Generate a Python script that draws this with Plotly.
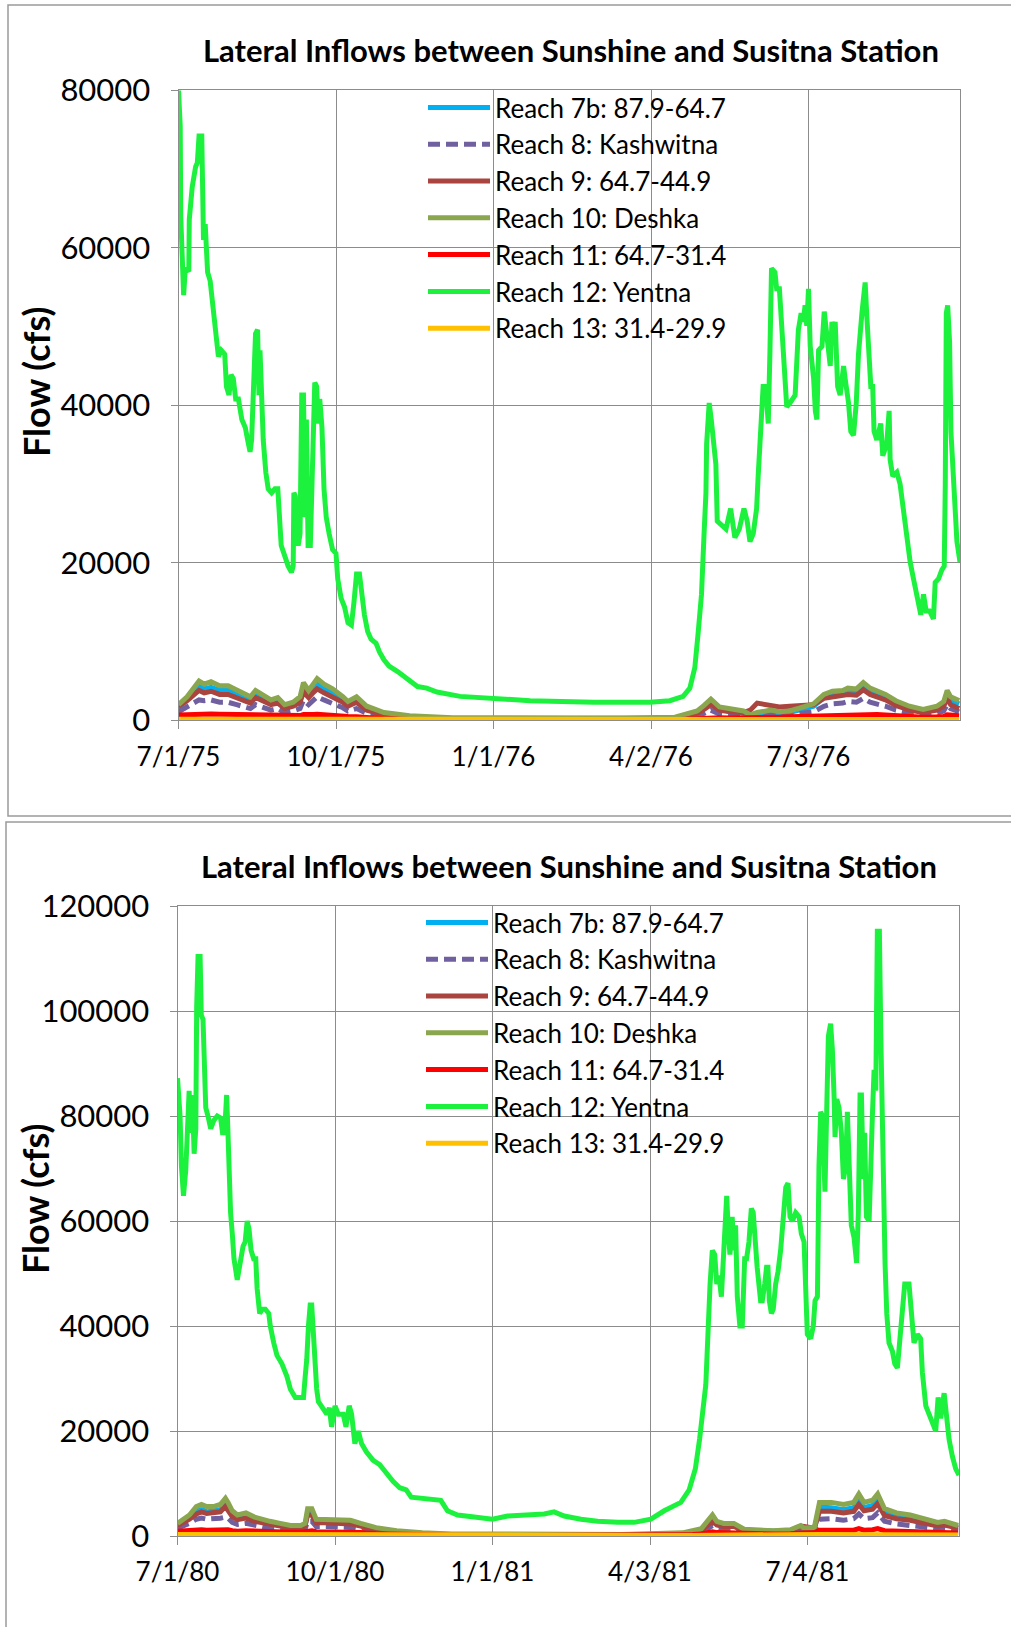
import pandas as pd
import plotly.graph_objects as go

# ---------------------------------------------------------------------------
# Labels
# ---------------------------------------------------------------------------
TITLE = "Lateral Inflows between Sunshine and Susitna Station"
Y_TITLE = "Flow (cfs)"
SERIES_NAMES = [
    "Reach 7b: 87.9-64.7",
    "Reach 8: Kashwitna",
    "Reach 9: 64.7-44.9",
    "Reach 10: Deshka",
    "Reach 11: 64.7-31.4",
    "Reach 12: Yentna",
    "Reach 13: 31.4-29.9",
]

# ---------------------------------------------------------------------------
# Panel 1: July 1975 - September 1976 (days counted from T_START)
# ---------------------------------------------------------------------------
T_START = "1975-07-01"
T_TICK_DATES = ["1975-07-01", "1975-10-01", "1976-01-01", "1976-04-02", "1976-07-03"]
T_TICK_TEXT = ["7/1/75", "10/1/75", "1/1/76", "4/2/76", "7/3/76"]
T_Y_TICKS = [0, 20000, 40000, 60000, 80000]

T_YENTNA_DAYS = [
    0, 1, 1.3, 3, 4, 6, 6.3, 8, 10, 11, 12, 13.6, 14, 14.6, 15.6, 17, 18.5, 20, 21, 22.4,
    23.3, 25, 27, 28, 29.5, 30.7, 32, 33.4, 35, 37, 39, 40.4, 41.8, 42.7, 43.5, 44.3, 45,
    46.2, 47, 47.6, 48.5, 49.5, 51, 52.4, 54.4, 56.3, 58, 59, 60, 62.5, 64, 66, 67, 67.4,
    68.3, 69, 69.9, 71, 72, 73, 74, 74.7, 75.7, 77, 78.6, 79.6, 80.7, 81.5, 82.5, 83.8, 85,
    86.3, 88, 90, 92, 93, 95, 97, 99, 101, 102.5, 104, 105.7, 107, 108.6, 110.5, 112.5,
    115.4, 117.4, 120, 123, 128, 132, 136, 139.6, 145, 151, 164.5, 184, 205.4, 242.4,
    275.4, 287, 294.8, 298.7, 301.6, 303.5, 305.5, 307, 308.1, 308.5, 310, 311.2, 312.4,
    313.9, 314.7, 317.2, 319.8, 322.5, 325, 327.6, 330.3, 332.2, 333.8, 335.7, 337.7,
    338.6, 340, 341.5, 343, 344.5, 345.5, 346.4, 348.4, 349.4, 351, 352.3, 353.7, 355.3,
    357.2, 360.2, 362.1, 363.7, 365, 366, 367, 368, 369, 371, 372, 372.9, 373.9, 375.9,
    377.2, 378.4, 379.7, 380.7, 381.7, 382.6, 383.6, 385, 386.5, 388.5, 389.4, 391.4,
    392.7, 394.3, 395.9, 397.2, 399.2, 401.1, 402.1, 403, 404.4, 405.5, 406.3, 407.9,
    409.5, 410.2, 411.4, 413.7, 415.1, 415.7, 417.2, 419.6, 421.5, 423.5, 425.4, 427.4,
    429.3, 431.3, 433.6, 435.2, 436.7, 438.7, 441, 442, 444, 445.9, 447.3, 447.9, 448.5,
    449.3, 450.4, 451.2, 452.8, 454.7, 456.5,
]
T_YENTNA_CFS = [
    80000, 75500, 64000, 54000, 57400, 57000, 63600, 67700, 70300, 70800, 74200, 74200,
    68800, 61000, 63000, 56900, 55800, 52700, 51700, 47500, 46200, 47000, 46500, 42400,
    41300, 43900, 43400, 40800, 40800, 38200, 37200, 35600, 34100, 35600, 41300, 44400,
    49100, 49600, 41300, 47000, 40800, 35600, 31500, 29400, 28900, 29400, 29400, 24800,
    22200, 20600, 19600, 18800, 19600, 28900, 28400, 23700, 22200, 23700, 41300, 41300,
    25800, 38200, 22200, 22200, 36700, 42900, 42400, 37700, 40800, 37200, 29400, 25800,
    23700, 21700, 21200, 18000, 15500, 14400, 12400, 12100, 15000, 18600, 18600, 15500,
    13400, 11300, 10300, 9800, 8700, 7700, 6900, 6200, 5600, 4900, 4300, 4100, 3600,
    3050, 2800, 2500, 2300, 2300, 2500, 3050, 4100, 6700, 11000, 16000, 23700, 28900,
    35100, 40300, 38200, 36200, 32500, 25300, 24800, 24300, 26900, 23200, 24300, 26900,
    25300, 22700, 23700, 26900, 31000, 36700, 42400, 42400, 37700, 47000, 57400, 56900,
    54800, 54800, 50600, 45000, 39800, 40300, 41300, 49600, 51700, 50600, 52700, 50100,
    54800, 47500, 43400, 39300, 38200, 47000, 47500, 51900, 49600, 47000, 45000, 50600,
    49100, 50600, 42400, 41300, 45000, 43400, 40300, 36700, 36200, 40300, 46500, 51700,
    55600, 51200, 46500, 42400, 42400, 36700, 35600, 37200, 37700, 33600, 35100, 39300,
    33100, 31000, 31500, 30000, 26300, 22700, 20100, 18000, 15500, 13400, 16000, 13900,
    13900, 12900, 17500, 18000, 19100, 19600, 30000, 51700, 52700, 48100, 36700, 28900,
    22700, 20100,
]

T_SMALL_DAYS = [
    0, 5, 12, 15, 19, 24, 29, 34, 39, 42, 45, 49, 54, 58, 62, 67, 71, 73, 76, 79, 81, 85,
    90, 96, 99, 104, 110, 120, 135, 160, 200, 260, 290, 299, 303, 307, 311, 316, 322, 330,
    334, 338, 346, 351, 357, 365, 371, 377, 382, 388, 391, 396, 400, 404, 408, 413, 419,
    427, 435, 443, 447, 449, 451, 456,
]
T_REACH7B_CFS = [
    1500, 2600, 4300, 4000, 4200, 3800, 3800, 3400, 2800, 2600, 3300, 2900, 2200, 2500,
    1700, 2000, 2600, 4000, 3400, 4200, 4700, 4100, 3500, 2600, 2100, 2600, 1500, 800,
    450, 250, 200, 200, 300, 700, 1000, 1600, 2300, 1400, 1200, 900, 500, 800, 1000, 900,
    1000, 1500, 1800, 2900, 3300, 3400, 3700, 3600, 4300, 3700, 3400, 2900, 2200, 1500,
    1100, 1500, 2000, 3300, 2600, 2100,
]
T_REACH8_CFS = [
    1100, 1800, 2600, 2500, 2600, 2300, 2300, 2000, 1600, 1500, 2000, 1700, 1300, 1500,
    1000, 1200, 1500, 2600, 2000, 2600, 3000, 2600, 2200, 1600, 1200, 1500, 900, 500, 250,
    150, 100, 100, 150, 400, 600, 900, 1300, 800, 600, 500, 300, 400, 700, 600, 700, 900,
    1100, 1800, 2100, 2200, 2400, 2300, 2800, 2300, 2100, 1800, 1300, 900, 600, 900, 1200,
    2000, 1500, 1100,
]
T_REACH9_CFS = [
    1800, 2500, 3800, 3500, 3700, 3300, 3300, 2900, 2500, 2200, 2900, 2500, 2000, 2200,
    1500, 1800, 2300, 3600, 2900, 3600, 4000, 3500, 3000, 2300, 1800, 2300, 1300, 700,
    400, 200, 150, 150, 250, 600, 900, 1400, 2000, 1300, 1100, 1000, 1300, 2200, 1800,
    1700, 1800, 1900, 2000, 2800, 3000, 3100, 3300, 3200, 3900, 3300, 3000, 2600, 1900,
    1300, 1000, 1300, 1800, 2800, 2000, 1500,
]
T_REACH10_CFS = [
    2000, 3000, 5000, 4600, 4900, 4400, 4400, 3900, 3300, 3000, 3800, 3300, 2600, 2900,
    2000, 2300, 3000, 4800, 3800, 4700, 5300, 4600, 4000, 3000, 2400, 3000, 1800, 1000,
    600, 350, 300, 300, 400, 900, 1200, 1900, 2700, 1700, 1500, 1200, 700, 1000, 1300,
    1100, 1200, 1700, 2100, 3300, 3700, 3800, 4100, 4000, 4800, 4100, 3800, 3300, 2500,
    1800, 1400, 1800, 2400, 3800, 3000, 2500,
]
T_REACH11_CFS = [
    700, 750, 800, 800, 800, 780, 750, 720, 700, 680, 700, 700, 650, 650, 600, 600, 620,
    750, 700, 750, 780, 750, 700, 600, 500, 450, 350, 200, 120, 80, 60, 60, 80, 150, 250,
    350, 400, 350, 300, 300, 280, 350, 400, 400, 450, 500, 550, 650, 700, 750, 800, 800,
    850, 800, 750, 700, 600, 500, 400, 450, 500, 700, 650, 600,
]
T_REACH13_DAYS = [0, 110, 200, 300, 370, 456]
T_REACH13_CFS = [150, 100, 50, 80, 120, 100]

# ---------------------------------------------------------------------------
# Panel 2: July 1980 - September 1981 (days counted from B_START)
# ---------------------------------------------------------------------------
B_START = "1980-07-01"
B_TICK_DATES = ["1980-07-01", "1980-10-01", "1981-01-01", "1981-04-03", "1981-07-04"]
B_TICK_TEXT = ["7/1/80", "10/1/80", "1/1/81", "4/3/81", "7/4/81"]
B_Y_TICKS = [0, 20000, 40000, 60000, 80000, 100000, 120000]

B_YENTNA_DAYS = [
    0, 1.5, 2.3, 3.5, 4.8, 5.8, 6.8, 7.7, 8.7, 9.7, 10.7, 11.2, 12, 13.2, 13.9, 14.9, 15.5,
    16.5, 17.8, 19.4, 21.3, 23.2, 25.2, 26.3, 27.5, 28.7, 29.4, 30, 31, 32, 33, 34.9, 36.8,
    38.3, 39.5, 40.7, 41.8, 43, 44.5, 45.7, 46.5, 48, 49.4, 51.3, 53.3, 54.2, 56.2, 58.1,
    61, 63.9, 65.9, 68.8, 71.7, 73.6, 74.6, 75.5, 76.5, 77.5, 78.4, 79.4, 80.4, 81.3, 82.3,
    85.2, 87.2, 88.7, 90, 92, 93.9, 96.8, 98.4, 100.3, 101.7, 103.6, 105.6, 107.5, 110.4,
    114.3, 118.1, 122, 125.9, 129.8, 133.6, 136.5, 143.3, 151, 153.8, 157.7, 163.6, 173.3,
    184, 192.8, 204.5, 214.2, 220, 225.9, 235.7, 245.4, 257.1, 266.8, 276.5, 284.3, 294,
    298.9, 302.5, 305, 308.6, 309.5, 311.1, 312.4, 313.8, 315, 316.3, 317.7, 318.6, 319.6,
    320.8, 321.7, 322.7, 324, 325, 326, 327, 328.5, 329.9, 331.3, 332.4, 333.8, 335.2,
    336.3, 337.7, 338.6, 340.6, 341.6, 343, 344.1, 344.9, 345.7, 346.9, 348, 349.4, 350.8,
    352.3, 353.9, 355.3, 356.6, 357.8, 359.2, 361.1, 363.1, 364.4, 366, 366.9, 367.9,
    369.9, 371.4, 372.4, 373.8, 374.7, 375.7, 376.7, 377.6, 378.2, 379.2, 380.2, 381.5,
    382.5, 383.5, 384.1, 385.1, 386.4, 387.8, 389, 390.3, 391.3, 392.3, 393.6, 395.2,
    396.7, 397.7, 398.7, 399.5, 400.6, 401.4, 402.4, 404, 404.9, 405.9, 406.9, 407.9,
    408.8, 410, 410.8, 411.4, 412.3, 413.3, 414.3, 415.6, 417.6, 419, 420.5, 422.1, 423.4,
    424.8, 427.3, 428.7, 430.2, 432.2, 434.1, 435.1, 437.1, 439, 441, 442.9, 444.3, 445.8,
    447.8, 449.3, 450.7, 452.6, 454.6, 456.5,
]
B_YENTNA_CFS = [
    87200, 80000, 70400, 64800, 69600, 80000, 84800, 76800, 84000, 72800, 77600, 100800,
    110400, 110400, 99200, 98400, 88800, 81600, 80000, 77600, 79200, 80000, 79600, 76800,
    76800, 84000, 77600, 68800, 61600, 57600, 52800, 48800, 52800, 55200, 56000, 60000,
    58400, 54400, 52800, 52800, 47200, 42400, 43200, 43200, 42400, 40000, 36800, 34400,
    32800, 30400, 28000, 26400, 26400, 26400, 30400, 33600, 40000, 44000, 44000, 36800,
    32800, 28000, 25600, 24000, 23200, 24400, 20800, 24800, 23200, 23200, 20800, 24800,
    23200, 17600, 20000, 17600, 16000, 14400, 13600, 12000, 10400, 9200, 8800, 7400, 7200,
    7000, 6800, 4800, 4000, 3600, 3200, 3800, 4000, 4200, 4600, 3800, 3200, 2800, 2600,
    2600, 3200, 4800, 6400, 8800, 12800, 18500, 28800, 38400, 48000, 54400, 53600, 48000,
    49600, 45600, 52800, 58400, 64800, 58400, 53600, 60800, 54400, 59200, 45600, 40000,
    40000, 52800, 52800, 56000, 62400, 61600, 52800, 51200, 44800, 44800, 48000, 51200,
    51200, 44800, 42400, 43200, 48000, 50400, 54400, 61600, 66400, 67200, 60800, 60000,
    61600, 60800, 57600, 56000, 44800, 38400, 37600, 40000, 44800, 45600, 70400, 80800,
    80000, 66400, 65600, 80800, 95200, 97600, 92800, 84000, 76000, 83200, 81600, 76800,
    68000, 70400, 80800, 71200, 59200, 56800, 52000, 61600, 84000, 84000, 68000, 76800,
    60800, 60000, 75200, 80000, 88800, 84800, 115200, 115200, 96000, 82400, 68000, 52000,
    42400, 36800, 35200, 32800, 32000, 38400, 44000, 48000, 48000, 41600, 36800, 38400,
    37600, 31200, 24800, 23200, 21600, 20000, 26400, 22400, 27200, 21600, 18400, 15200,
    12800, 11600,
]

B_SMALL_DAYS = [
    0, 4, 7, 11, 14, 17, 21, 25, 28, 29.5, 32, 35, 40, 45, 49, 54, 60, 66, 72, 74.5, 76,
    78.5, 81, 87, 93, 101, 107, 116, 128, 143, 160, 200, 260, 295, 301, 306, 312.5, 315,
    319, 325, 331, 339, 348, 358, 364, 366, 372, 375, 382, 389, 395, 398, 401, 406, 409,
    413, 420, 428, 436, 444, 448, 456,
]
B_REACH7B_CFS = [
    1800, 2600, 3400, 4800, 5200, 4600, 4800, 5000, 6000, 5400, 4000, 3400, 3700, 3000,
    2700, 2300, 2000, 1600, 1600, 2000, 4400, 4300, 2700, 2700, 2700, 2500, 2000, 1300,
    800, 450, 300, 200, 200, 450, 800, 1100, 3300, 2300, 2000, 2000, 1000, 900, 800, 900,
    1600, 1200, 1300, 5500, 5400, 5000, 5400, 6800, 5400, 5800, 6800, 4400, 3700, 3400,
    2700, 2200, 2300, 1700,
]
B_REACH8_CFS = [
    1500, 2000, 2400, 3200, 3400, 3200, 3200, 3400, 3600, 3400, 2600, 2200, 2400, 2000,
    1800, 1500, 1300, 1100, 1100, 1300, 2800, 2800, 1800, 1800, 1800, 1600, 1300, 900,
    500, 300, 200, 100, 100, 300, 500, 700, 2000, 1500, 1300, 1300, 700, 600, 500, 600,
    1100, 900, 900, 3200, 3300, 3000, 3300, 4200, 3300, 3500, 4400, 2800, 2300, 2100,
    1700, 1300, 1400, 1000,
]
B_REACH9_CFS = [
    2000, 2700, 3200, 4200, 4600, 4300, 4400, 4600, 5600, 4900, 3700, 3100, 3400, 2800,
    2500, 2200, 1900, 1600, 1600, 1900, 4000, 4000, 2500, 2500, 2500, 2300, 1900, 1200,
    800, 400, 250, 150, 150, 400, 700, 1000, 2900, 2100, 1800, 1800, 1000, 900, 800, 1000,
    1900, 1800, 1500, 4700, 4700, 4400, 4700, 6000, 4800, 5100, 6200, 3900, 3300, 3000,
    2400, 1900, 2100, 1500,
]
B_REACH10_CFS = [
    2400, 3200, 4000, 5600, 6000, 5600, 5600, 6000, 7200, 6400, 4800, 4000, 4400, 3600,
    3200, 2800, 2400, 2000, 2000, 2400, 5200, 5200, 3200, 3200, 3200, 3000, 2400, 1600,
    1000, 600, 400, 300, 300, 600, 1000, 1400, 4000, 2800, 2400, 2400, 1300, 1200, 1000,
    1200, 2000, 1500, 1600, 6400, 6400, 6000, 6400, 8000, 6400, 6800, 8000, 5200, 4400,
    4000, 3200, 2600, 2800, 2000,
]
B_REACH11_CFS = [
    900, 1000, 1100, 1200, 1200, 1100, 1100, 1200, 1300, 1200, 1000, 900, 1000, 900, 850,
    800, 750, 700, 700, 750, 1000, 1000, 800, 800, 800, 750, 650, 450, 300, 180, 120, 80,
    80, 150, 300, 400, 800, 650, 600, 600, 450, 400, 380, 420, 700, 600, 600, 1100, 1100,
    1050, 1100, 1400, 1100, 1200, 1400, 1000, 900, 850, 700, 600, 650, 550,
]
B_REACH13_DAYS = [0, 110, 200, 300, 375, 456]
B_REACH13_CFS = [300, 200, 80, 100, 300, 200]

# ---------------------------------------------------------------------------
# Styling
# ---------------------------------------------------------------------------
FIG_W, FIG_H = 1011, 1627
FONT = "Lato, Carlito, 'Open Sans', sans-serif"
GRID = "#8c8c8c"
LINE_STYLES = [
    dict(color="#00B0F0", width=5, dash="solid"),
    dict(color="#7060A0", width=5, dash="12px,6px"),
    dict(color="#A9443F", width=5, dash="solid"),
    dict(color="#8AA64E", width=5, dash="solid"),
    dict(color="#FF0000", width=5, dash="solid"),
    dict(color="#1CF23E", width=5, dash="solid"),
    dict(color="#FFC000", width=5, dash="solid"),
]


def px_x(px):
    return px / FIG_W


def px_y(px):
    return 1 - px / FIG_H


def to_dates(start, days):
    return list(pd.Timestamp(start) + pd.to_timedelta(days, unit="D"))


fig = go.Figure()


def add_panel(start, small_days, small_series, yentna, reach13, xaxis, yaxis, legend):
    """Add the seven reach traces of one panel in legend / drawing order."""
    small_x = to_dates(start, small_days)
    series = [
        (small_x, small_series[0]),
        (small_x, small_series[1]),
        (small_x, small_series[2]),
        (small_x, small_series[3]),
        (small_x, small_series[4]),
        (to_dates(start, yentna[0]), yentna[1]),
        (to_dates(start, reach13[0]), reach13[1]),
    ]
    for name, style, (x, y) in zip(SERIES_NAMES, LINE_STYLES, series):
        fig.add_trace(
            go.Scatter(
                x=x, y=y, name=name, mode="lines",
                line=dict(color=style["color"], width=style["width"], dash=style["dash"]),
                xaxis=xaxis, yaxis=yaxis, legend=legend,
            )
        )


add_panel(
    T_START, T_SMALL_DAYS,
    [T_REACH7B_CFS, T_REACH8_CFS, T_REACH9_CFS, T_REACH10_CFS, T_REACH11_CFS],
    (T_YENTNA_DAYS, T_YENTNA_CFS), (T_REACH13_DAYS, T_REACH13_CFS),
    "x", "y", "legend",
)
add_panel(
    B_START, B_SMALL_DAYS,
    [B_REACH7B_CFS, B_REACH8_CFS, B_REACH9_CFS, B_REACH10_CFS, B_REACH11_CFS],
    (B_YENTNA_DAYS, B_YENTNA_CFS), (B_REACH13_DAYS, B_REACH13_CFS),
    "x2", "y2", "legend2",
)


def x_axis(start, last_day, tickvals, ticktext, left, right):
    end = pd.Timestamp(start) + pd.Timedelta(days=last_day)
    return dict(
        type="date", domain=[px_x(left), px_x(right)],
        range=[pd.Timestamp(start), end], automargin=False,
        tickmode="array", tickvals=tickvals, ticktext=ticktext,
        showgrid=True, gridcolor=GRID, gridwidth=1,
        showline=True, linecolor=GRID, linewidth=1, mirror=True,
        ticks="outside", ticklen=8, tickcolor=GRID, tickwidth=1,
        ticklabelstandoff=5,
        tickfont=dict(family=FONT, size=26, color="black"),
        zeroline=False, fixedrange=True,
    )


def y_axis(ticks, top, bottom, anchor):
    return dict(
        domain=[px_y(bottom), px_y(top)], range=[ticks[0], ticks[-1]], anchor=anchor,
        automargin=False,
        tickmode="array", tickvals=ticks, ticktext=[str(t) for t in ticks],
        showgrid=True, gridcolor=GRID, gridwidth=1,
        showline=True, linecolor=GRID, linewidth=1, mirror=True,
        ticks="outside", ticklen=7, tickcolor=GRID, tickwidth=1,
        ticklabelstandoff=14,
        tickfont=dict(family=FONT, size=31, color="black"),
        zeroline=False, fixedrange=True,
    )


def legend_box(x_px, y_px):
    return dict(
        x=px_x(x_px), y=px_y(y_px), xanchor="left", yanchor="top",
        bgcolor="rgba(0,0,0,0)", borderwidth=0, itemwidth=62,
        font=dict(family=FONT, size=26, color="black"),
        tracegroupgap=0, itemclick=False, itemdoubleclick=False,
    )


fig.update_layout(
    width=FIG_W, height=FIG_H,
    margin=dict(l=0, r=0, t=0, b=0, autoexpand=False),
    paper_bgcolor="white", plot_bgcolor="white",
    showlegend=True,
    xaxis=dict(anchor="y", **x_axis(T_START, T_YENTNA_DAYS[-1], T_TICK_DATES, T_TICK_TEXT, 178.5, 960)),
    yaxis=y_axis(T_Y_TICKS, 90.3, 720.4, "x"),
    xaxis2=dict(anchor="y2", **x_axis(B_START, B_YENTNA_DAYS[-1], B_TICK_DATES, B_TICK_TEXT, 177.5, 959)),
    yaxis2=y_axis(B_Y_TICKS, 906, 1536, "x2"),
    legend=legend_box(423, 84),
    legend2=legend_box(421, 899),
    font=dict(family=FONT, color="black"),
)

# Panel frames
for x0, y0, x1, y1 in [(8, 5, 1014, 816), (6, 822, 1014, 1632)]:
    fig.add_shape(
        type="rect", xref="paper", yref="paper",
        x0=px_x(x0), x1=px_x(x1), y0=px_y(y0), y1=px_y(y1),
        line=dict(color="#9a9a9a", width=1.5), fillcolor="rgba(0,0,0,0)", layer="below",
    )

# Panel titles and y-axis titles
for cx, cy in [(571, 50), (569, 866)]:
    fig.add_annotation(
        text=f"<b>{TITLE}</b>", xref="paper", yref="paper",
        x=px_x(cx), y=px_y(cy), xanchor="center", yanchor="middle", showarrow=False,
        font=dict(family=FONT, size=31, color="black"),
    )
for cx, cy in [(36, 382), (35, 1199)]:
    fig.add_annotation(
        text=f"<b>{Y_TITLE}</b>", xref="paper", yref="paper", textangle=-90,
        x=px_x(cx), y=px_y(cy), xanchor="center", yanchor="middle", showarrow=False,
        font=dict(family=FONT, size=36, color="black"),
    )

fig.write_html("out.html")
